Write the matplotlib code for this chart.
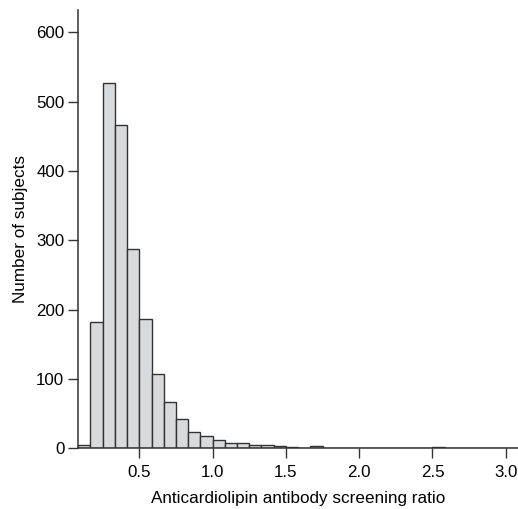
import numpy as np
import matplotlib
matplotlib.use('Agg')
import matplotlib.pyplot as plt

plt.rcParams['font.family'] = ['Liberation Sans', 'DejaVu Sans']

## histogram data (bins of width 1/12)
bin_width = 1/12
bin_edges = np.arange(1, 38) * bin_width      # 1/12 ... 37/12
counts = [5, 182, 527, 467, 287, 187, 108, 67, 42, 23,
          18, 12, 8, 8, 5, 5, 4, 2, 1, 4,
          0, 1, 0, 1, 1, 0, 0, 1, 0, 2,
          0, 0, 0, 0, 0, 1]
xticks = [0.5, 1.0, 1.5, 2.0, 2.5, 3.0]
yticks = [0, 100, 200, 300, 400, 500, 600]

fig = plt.figure(figsize=(5.18, 5.09), dpi=100)
ax = fig.add_axes([0.151, 0.119, 0.849, 0.861])

ax.bar(bin_edges[:-1], counts, width=bin_width, align='edge',
       color='#d9dadb', edgecolor='#333333', linewidth=1.0)

ax.set_xlim(bin_edges[0], bin_edges[-1])
ax.set_ylim(0, 632)
ax.set_xticks(xticks)
ax.set_xticklabels([f'{t:.1f}' for t in xticks])
ax.set_yticks(yticks)

for s in ['top', 'right']:
    ax.spines[s].set_visible(False)
for s in ['left', 'bottom']:
    ax.spines[s].set_color('#333333')
    ax.spines[s].set_linewidth(1.1)
ax.tick_params(direction='out', length=7, width=1.0, color='#333333',
               labelsize=12.2, pad=3)
ax.tick_params(axis='x', pad=5)

ax.set_xlabel('Anticardiolipin antibody screening ratio', fontsize=12.3, labelpad=8)
ax.set_ylabel('Number of subjects', fontsize=12.3, labelpad=6)

fig.savefig('out.png', dpi=100)
